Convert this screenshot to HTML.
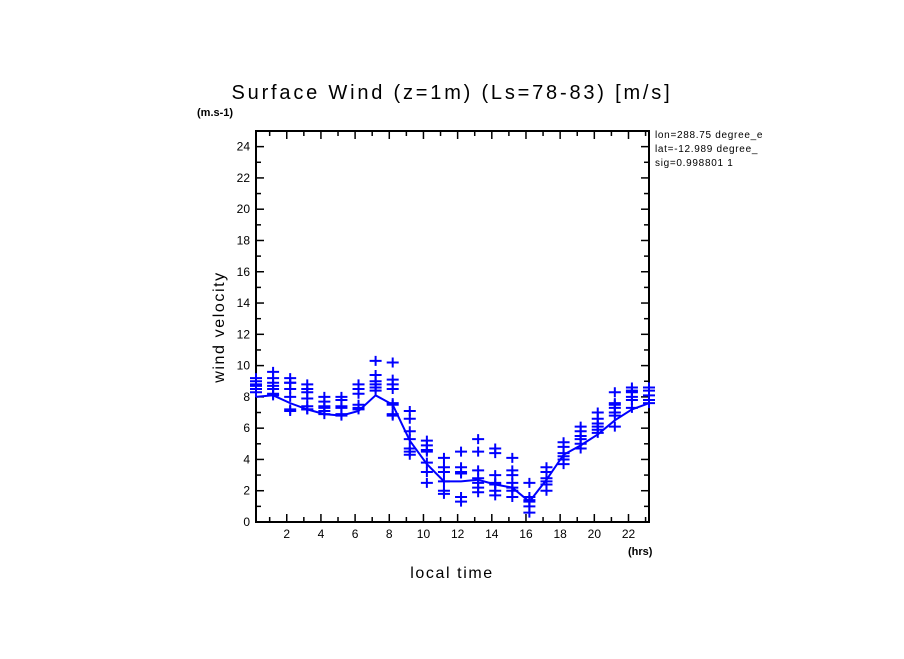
<!DOCTYPE html>
<html><head><meta charset="utf-8"><style>
body{margin:0;background:#fff}
text{font-family:"Liberation Sans",sans-serif}
</style></head><body>
<svg id="chart" width="904" height="654" xmlns="http://www.w3.org/2000/svg">
<defs><clipPath id="infoclip"><rect x="650" y="120" width="129" height="60"/></clipPath></defs>
<rect width="904" height="654" fill="#fff"/>
<text x="452" y="99" font-size="20" letter-spacing="2.8" text-anchor="middle">Surface Wind (z=1m) (Ls=78-83) [m/s]</text>
<text x="197" y="116" font-size="11" font-weight="bold">(m.s-1)</text>
<text x="628" y="555" font-size="11" font-weight="bold">(hrs)</text>
<text x="452" y="578" font-size="16" letter-spacing="1.6" text-anchor="middle">local time</text>
<text transform="translate(224,327) rotate(-90)" font-size="16" letter-spacing="1.6" text-anchor="middle">wind velocity</text>
<g clip-path="url(#infoclip)">
<text x="655" y="138" font-size="10" letter-spacing="0.7">lon=288.75 degree_e</text>
<text x="655" y="152" font-size="10" letter-spacing="0.7">lat=-12.989 degree_</text>
<text x="655" y="166" font-size="10" letter-spacing="0.7">sig=0.998801 1</text>
</g>
<g id="axes"></g>
<g id="marks"></g>
</svg>
<script>
const hours = [0.2,1.2,2.2,3.2,4.2,5.2,6.2,7.2,8.2,9.2,10.2,11.2,12.2,13.2,14.2,15.2,16.2,17.2,18.2,19.2,20.2,21.2,22.2,23.2];
const meanWind = [8.0,8.1,7.6,7.2,6.9,6.8,7.1,8.1,7.5,5.2,3.7,2.6,2.6,2.7,2.4,2.2,1.3,2.7,4.3,4.9,5.6,6.5,7.2,7.6];
const samples = [
[9.2,9.0,8.8,8.7,8.5,8.3],[9.6,9.2,8.9,8.7,8.5,8.2,8.1],[9.2,8.9,8.9,8.5,8.0,7.2,7.1],
[8.8,8.5,8.3,7.9,7.4,7.2,7.2],[8.0,7.7,7.4,7.3,7.1,6.9],[8.0,7.8,7.4,7.3,6.9,6.8],
[8.8,8.5,8.2,7.5,7.3,7.2],[10.3,9.4,9.0,8.8,8.6,8.4],[10.2,9.1,8.8,8.5,7.6,7.5,6.9,6.8],
[7.1,6.6,5.8,5.3,4.7,4.5,4.3],[5.2,4.9,4.6,4.5,3.8,3.2,2.5],[4.1,3.5,3.2,2.6,2.0,1.8],
[4.5,3.5,3.2,3.1,1.6,1.3],[5.3,4.5,3.3,2.8,2.5,2.2,1.9],[4.7,4.4,3.0,2.5,2.4,2.0,1.7],
[4.1,3.3,3.0,2.5,2.2,2.0,1.6],[2.5,1.6,1.4,1.3,1.0,0.6],[3.5,3.2,2.8,2.6,2.4,2.0],
[5.1,4.8,4.4,4.2,4.0,3.7],[6.1,5.8,5.5,5.3,5.0,4.7],[7.0,6.6,6.3,6.1,5.9,5.7],
[8.3,7.6,7.5,7.3,7.0,6.8,6.1],[8.6,8.4,8.3,8.0,7.8,7.3],[8.6,8.4,8.1,7.8,7.6]];
const yTicks = [0,2,4,6,8,10,12,14,16,18,20,22,24];
const xTicks = [2,4,6,8,10,12,14,16,18,20,22];

const L=256,R=649,T=131,B=522,X0=0.2,X1=23.2,Y0=0,Y1=25;
const sx=v=>L+(v-X0)/(X1-X0)*(R-L);
const sy=v=>B-(v-Y0)/(Y1-Y0)*(B-T);
const NS="http://www.w3.org/2000/svg";
const axes=document.getElementById('axes'), marks=document.getElementById('marks');
function mk(tag,attrs,parent){const e=document.createElementNS(NS,tag);for(const k in attrs)e.setAttribute(k,attrs[k]);parent.appendChild(e);return e;}

const frame=mk('rect',{x:L,y:T,width:R-L,height:B-T,fill:'none',stroke:'#000','stroke-width':2},axes);



for(let v=1;v<=25;v++){
  const y=sy(v), len=(v%2===0)?8:5;
  const t1=mk('line',{x1:L,x2:L+len,y1:y,y2:y,stroke:'#000','stroke-width':1.5},axes);
  
  
  const t2=mk('line',{x1:R,x2:R-len,y1:y,y2:y,stroke:'#000','stroke-width':1.5},axes);
  
  
}
yTicks.forEach(v=>{
  const t=mk('text',{x:L-6,y:sy(v)+4,'font-size':12,'text-anchor':'end'},axes);
  t.textContent=v;
  
  
});
for(let h=1;h<=23;h++){
  const x=sx(h), len=(h%2===0)?8:5;
  const t1=mk('line',{x1:x,x2:x,y1:B,y2:B-len,stroke:'#000','stroke-width':1.5},axes);
  
  
  const t2=mk('line',{x1:x,x2:x,y1:T,y2:T+len,stroke:'#000','stroke-width':1.5},axes);
  
  
}
xTicks.forEach(h=>{
  const t=mk('text',{x:sx(h),y:B+16,'font-size':12,'text-anchor':'middle'},axes);
  t.textContent=h;
  
  
});

const line=mk('polyline',{points:hours.map((h,i)=>sx(h)+','+sy(meanWind[i])).join(' '),fill:'none',stroke:'#0000ff','stroke-width':2},marks);



samples.forEach((col,i)=>{
  col.forEach(v=>{
    const x=sx(hours[i]), y=sy(v);
    const p=mk('path',{d:`M${x-6},${y}H${x+6}M${x},${y-5}V${y+5}`,stroke:'#0000ff','stroke-width':2,fill:'none'},marks);
    
    
  });
});
</script>
</body></html>
